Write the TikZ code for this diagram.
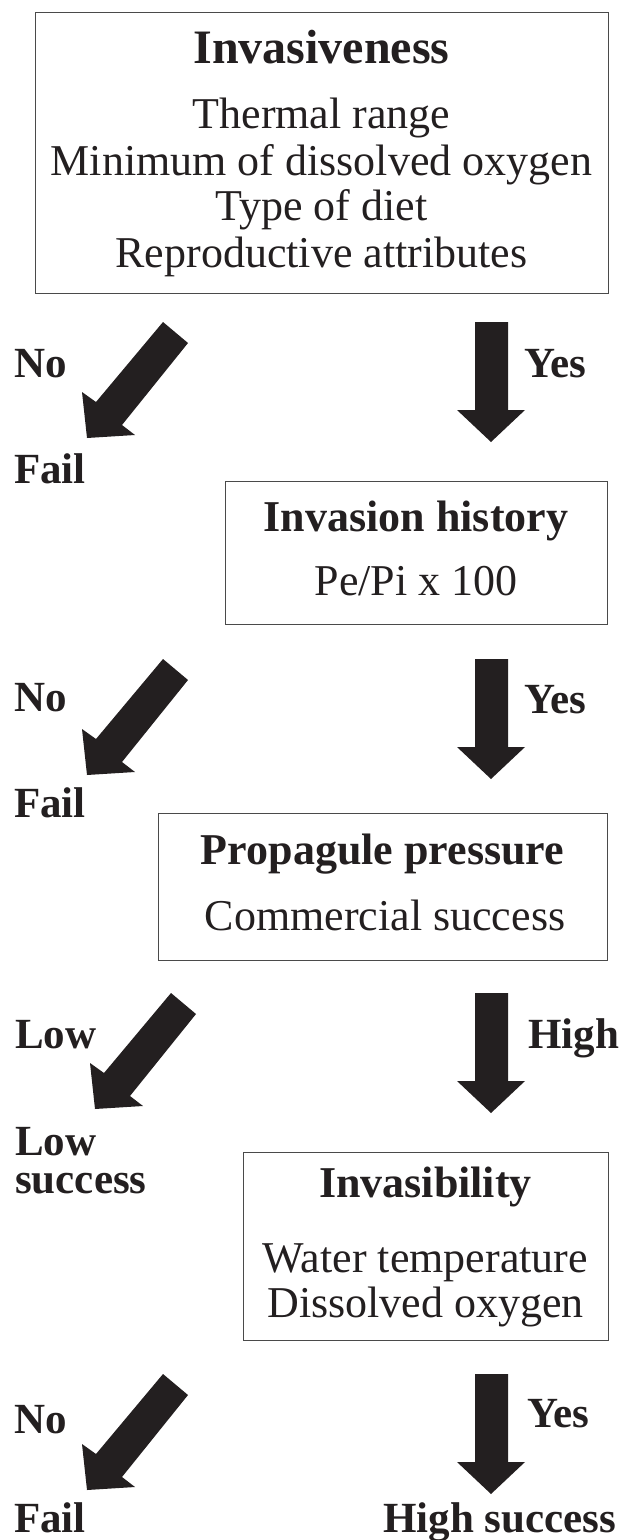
\documentclass[tikz,border=0pt]{standalone}
\usepackage{fontspec}
\setmainfont{Liberation Serif}
\usepackage{xcolor}
\definecolor{inkblack}{HTML}{231F20}
\definecolor{framegray}{HTML}{4A4A4A}
\tikzset{
  box/.style={draw=framegray, line width=1.3pt, anchor=north west, inner sep=0pt},
  head/.style={font=\fontsize{44}{48}\selectfont\bfseries, text=inkblack, anchor=base, inner sep=0pt},
  item/.style={font=\fontsize{44}{48}\selectfont, text=inkblack, anchor=base, inner sep=0pt},
  side/.style={font=\fontsize{43}{48}\selectfont\bfseries, text=inkblack, anchor=base west, inner sep=0pt},
  % block arrows, drawn from the arrow's top edge
  yes arrow/.pic={\fill[inkblack] (475,0) -- (508,0) -- (508,88) -- (525,88) -- (491,120) -- (457,88) -- (475,88) -- cycle;},
  no arrow/.pic={\fill[inkblack] (163,0) -- (188,21) -- (122,103) -- (135,113) -- (87,116) -- (82,70) -- (96,80) -- cycle;}
}
\begin{document}
\begin{tikzpicture}[x=1pt, y=-1pt]
\useasboundingbox (0,0) rectangle (622,1540);

% invasiveness
\node[box, minimum width=573pt, minimum height=281pt] (invasiveness) at (35,12) {};
\node[head, font=\fontsize{48}{52}\selectfont\bfseries] (t1) at (321.5,63) {Invasiveness};
\node[item] (t1a) at (321.5,128) {Thermal range};
\node[item] (t1b) at (321.5,175) {Minimum of dissolved oxygen};
\node[item] (t1c) at (321.5,220) {Type of diet};
\node[item] (t1d) at (321.5,267) {Reproductive attributes};

\pic at (0,322) {no arrow};
\pic at (0,322) {yes arrow};
\node[side] (no1) at (14,377) {No};
\node[side] (yes1) at (524,377) {Yes};
\node[side] (fail1) at (14,483) {Fail};

% invasion history
\node[box, minimum width=382pt, minimum height=143pt] (history) at (225,481) {};
\node[head] (t2) at (416,531) {Invasion history};
\node[item] (t2a) at (416,595) {Pe/Pi x 100};

\pic at (0,659) {no arrow};
\pic at (0,659) {yes arrow};
\node[side] (no2) at (14,711) {No};
\node[side] (yes2) at (524,713) {Yes};
\node[side] (fail2) at (14,817) {Fail};

% propagule pressure
\node[box, minimum width=449pt, minimum height=147pt] (propagule) at (158,813) {};
\node[head] (t3) at (382.5,864) {Propagule pressure};
\node[item] (t3a) at (385,930) {Commercial success};

\pic at (8,993) {no arrow};
\pic at (0,993) {yes arrow};
\node[side] (low3) at (15,1048) {Low};
\node[side] (high3) at (528,1048) {High};
\node[side, align=left, font=\fontsize{43}{38}\selectfont\bfseries] (lowsucc) at (15,1193) {Low\\success};

% invasibility
\node[box, minimum width=365pt, minimum height=188pt] (invasibility) at (243,1152) {};
\node[head] (t4) at (425.5,1197) {Invasibility};
\node[item] (t4a) at (425.5,1272) {Water temperature};
\node[item] (t4b) at (425.5,1317) {Dissolved oxygen};

\pic at (0,1374) {no arrow};
\pic at (0,1374) {yes arrow};
\node[side] (no4) at (14,1433) {No};
\node[side] (yes4) at (527,1427) {Yes};
\node[side] (fail4) at (14,1532) {Fail};
\node[side] (highsucc) at (383,1532) {High success};
\end{tikzpicture}
\end{document}
